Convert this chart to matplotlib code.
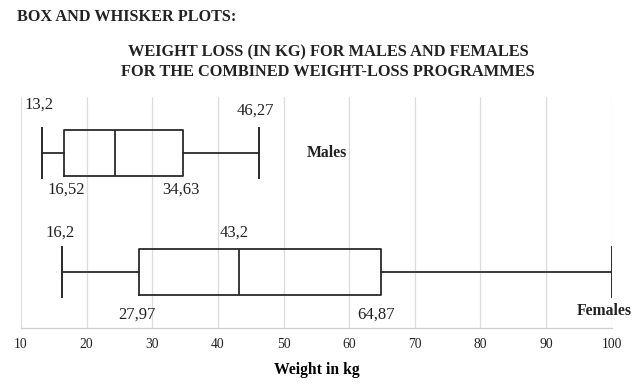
import matplotlib
matplotlib.use("Agg")
import matplotlib.pyplot as plt

# ---- data ----
groups = ["Males", "Females"]
mins = [13.2, 16.2]
q1s = [16.52, 27.97]
medians = [24.3, 43.2]
q3s = [34.63, 64.87]
maxs = [46.27, 100.0]
min_labels = ["13,2", "16,2"]
q1_labels = ["16,52", "27,97"]
median_labels = [None, "43,2"]
q3_labels = ["34,63", "64,87"]
max_labels = ["46,27", None]
xticks = [10, 20, 30, 40, 50, 60, 70, 80, 90, 100]

plt.rcParams['font.family'] = ['Liberation Serif', 'DejaVu Serif']

fig = plt.figure(figsize=(6.38, 3.87), dpi=100)
ax = fig.add_axes([21/638, 1-328/387, (611.7-21)/638, (328-97)/387])

positions = [0.758, 0.242]
stats = []
for i, g in enumerate(groups):
    stats.append(dict(label=g, whislo=mins[i], q1=q1s[i], med=medians[i],
                      q3=q3s[i], whishi=maxs[i], fliers=[]))

lc = '#2a2a2a'
ax.bxp(stats, positions=positions, vert=False, widths=0.2, capwidths=0.215,
       showfliers=False, patch_artist=False,
       boxprops=dict(color=lc, linewidth=1.3),
       whiskerprops=dict(color=lc, linewidth=1.3),
       capprops=dict(color=lc, linewidth=1.4),
       medianprops=dict(color=lc, linewidth=1.3))

ax.set_xlim(10, 100)
ax.set_ylim(0, 1)
ax.set_xticks(xticks)
ax.set_xticklabels([str(t) for t in xticks], fontsize=9.8)
ax.set_yticks([])
ax.tick_params(axis='x', length=0, pad=7, colors='#222222')
ax.grid(axis='x', color='#dcdcdc', linewidth=0.9)
ax.set_axisbelow(True)
for s in ['top', 'right', 'left']:
    ax.spines[s].set_visible(False)
ax.spines['bottom'].set_color('#cfcfcf')
ax.spines['bottom'].set_linewidth(0.9)

ax.set_xlabel("Weight in kg", fontsize=11.3, fontweight='bold', labelpad=8)

fs = 12
tc = '#222222'
half = 0.1
# Males labels
m = 0
ax.text(mins[m] - 0.5, positions[m] + half + 0.11, min_labels[m], ha='center', va='center', fontsize=fs, color=tc)
ax.text(maxs[m] - 0.5, positions[m] + half + 0.085, max_labels[m], ha='center', va='center', fontsize=fs, color=tc)
ax.text(q1s[m] + 0.3, positions[m] - half - 0.06, q1_labels[m], ha='center', va='center', fontsize=fs, color=tc)
ax.text(q3s[m] - 0.3, positions[m] - half - 0.06, q3_labels[m], ha='center', va='center', fontsize=fs, color=tc)
ax.text(56.6, positions[m], groups[m], ha='center', va='center', fontsize=11.3, fontweight='bold', color=tc)
# Females labels
f = 1
ax.text(mins[f] - 0.2, positions[f] + half + 0.07, min_labels[f], ha='center', va='center', fontsize=fs, color=tc)
ax.text(medians[f] - 0.7, positions[f] + half + 0.07, median_labels[f], ha='center', va='center', fontsize=fs, color=tc)
ax.text(q1s[f] - 0.3, positions[f] - half - 0.085, q1_labels[f], ha='center', va='center', fontsize=fs, color=tc)
ax.text(q3s[f] - 0.7, positions[f] - half - 0.085, q3_labels[f], ha='center', va='center', fontsize=fs, color=tc)
ax.text(103.0, positions[f] - half - 0.07, groups[f], ha='right', va='center', fontsize=11.3,
        fontweight='bold', color=tc, clip_on=False)

fig.text(17/638, 1-17/387, "BOX AND WHISKER PLOTS:", ha='left', va='center',
         fontsize=11.7, fontweight='bold', color=tc)
fig.text(328/638, 1-52/387, "WEIGHT LOSS (IN KG) FOR MALES AND FEMALES", ha='center', va='center',
         fontsize=11.8, fontweight='bold', color=tc)
fig.text(328/638, 1-72/387, "FOR THE COMBINED WEIGHT-LOSS PROGRAMMES", ha='center', va='center',
         fontsize=11.8, fontweight='bold', color=tc)

fig.savefig("out.png", dpi=100)
